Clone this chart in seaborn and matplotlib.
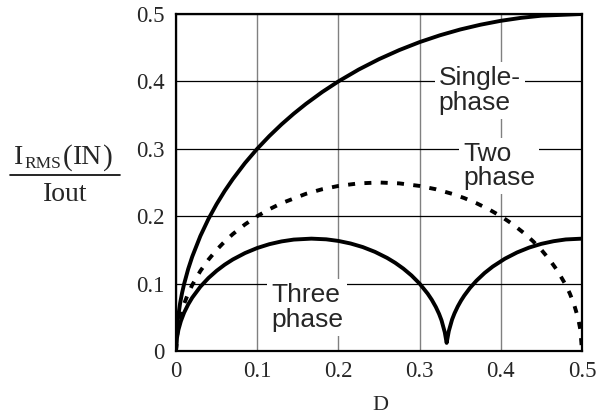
import matplotlib
matplotlib.use('agg')
import matplotlib.pyplot as plt
from matplotlib.lines import Line2D
import seaborn as sns

# data
d_single = [0, 0.001, 0.002, 0.005, 0.0075, 0.01, 0.015, 0.02, 0.03, 0.04, 0.05, 0.06,
            0.07, 0.085, 0.1, 0.115, 0.13, 0.145, 0.16, 0.18, 0.2, 0.225, 0.25, 0.275,
            0.3, 0.325, 0.35, 0.375, 0.4, 0.425, 0.45, 0.5]
i_single = [0, 0.0316, 0.0447, 0.0705, 0.0863, 0.0995, 0.1216, 0.14, 0.1706, 0.196,
            0.2179, 0.2375, 0.2551, 0.2789, 0.3, 0.319, 0.3363, 0.3521, 0.3666, 0.3842,
            0.4, 0.4176, 0.433, 0.4465, 0.4583, 0.4684, 0.477, 0.4841, 0.4899, 0.4943,
            0.4975, 0.5]

d_two = [0, 0.002, 0.005, 0.01, 0.015, 0.02, 0.03, 0.04, 0.05, 0.06, 0.07, 0.085, 0.1,
         0.115, 0.13, 0.16, 0.18, 0.2, 0.225, 0.25, 0.275, 0.3, 0.32, 0.34, 0.355, 0.37,
         0.385, 0.4, 0.415, 0.43, 0.44, 0.45, 0.46, 0.47, 0.48, 0.485, 0.49, 0.495,
         0.498, 0.5]
i_two = [0, 0.0316, 0.0497, 0.07, 0.0853, 0.098, 0.1187, 0.1356, 0.15, 0.1625, 0.1735,
         0.1878, 0.2, 0.2104, 0.2193, 0.2332, 0.24, 0.2449, 0.2487, 0.25, 0.2487, 0.2449,
         0.24, 0.2332, 0.2269, 0.2193, 0.2104, 0.2, 0.1878, 0.1735, 0.1625, 0.15,
         0.1356, 0.1187, 0.098, 0.0853, 0.07, 0.0497, 0.0316, 0]

d_three = [0, 0.001, 0.003, 0.006, 0.01, 0.015, 0.02, 0.03, 0.04, 0.05, 0.06, 0.07,
           0.085, 0.1, 0.115, 0.13, 0.145, 0.1667, 0.185, 0.2, 0.215, 0.23, 0.245, 0.26,
           0.27, 0.28, 0.29, 0.3, 0.31, 0.315, 0.32, 0.324, 0.327, 0.331, 0.3333, 0.336,
           0.34, 0.343, 0.347, 0.351, 0.355, 0.362, 0.37, 0.38, 0.39, 0.405, 0.42, 0.435,
           0.45, 0.465, 0.48, 0.5]
i_three = [0, 0.0182, 0.0315, 0.0443, 0.0569, 0.0691, 0.0792, 0.0954, 0.1083, 0.119,
           0.1281, 0.1358, 0.1453, 0.1528, 0.1585, 0.1626, 0.1653, 0.1667, 0.1657,
           0.1633, 0.1595, 0.1542, 0.1471, 0.1381, 0.1308, 0.1222, 0.1121, 0.1, 0.085,
           0.076, 0.0653, 0.055, 0.0455, 0.0278, 0.012, 0.0297, 0.0467, 0.0559, 0.0661,
           0.0747, 0.0822, 0.0935, 0.1043, 0.1157, 0.1252, 0.1369, 0.1462, 0.1535,
           0.159, 0.1629, 0.1655, 0.1667]

ticks = [0, 0.1, 0.2, 0.3, 0.4, 0.5]
tick_labels = ["0", "0.1", "0.2", "0.3", "0.4", "0.5"]

sns.set_style("white")
plt.rcParams['font.family'] = ['Liberation Serif', 'DejaVu Serif']

fig = plt.figure(figsize=(6.09, 4.17), dpi=100)
ax = fig.add_axes([176 / 609, 1 - 351 / 417, 406 / 609, 337 / 417])

sns.lineplot(x=d_single, y=i_single, ax=ax, color="black", lw=2.8, sort=False,
             estimator=None, zorder=3)
sns.lineplot(x=d_two, y=i_two, ax=ax, color="black", lw=2.8, sort=False,
             estimator=None, linestyle=(0, (1.8, 2.4)), zorder=3)
sns.lineplot(x=d_three, y=i_three, ax=ax, color="black", lw=2.8, sort=False,
             estimator=None, zorder=3)

ax.set_xlim(0, 0.5)
ax.set_ylim(0, 0.5)
ax.set_xticks(ticks)
ax.set_yticks(ticks)
ax.set_xticklabels(tick_labels, fontsize=16.5)
ax.set_yticklabels(tick_labels, fontsize=16.5)
ax.tick_params(direction="in", length=4, width=1, color="black")
ax.tick_params(axis="x", pad=7)
ax.tick_params(axis="y", pad=8)
ax.set_axisbelow(True)
ax.yaxis.grid(True, color="black", lw=0.9)
ax.xaxis.grid(True, color="#808080", lw=1.0)
for s in ax.spines.values():
    s.set_color("black")
    s.set_linewidth(1.6)
    s.set_zorder(4)

box = dict(facecolor="white", edgecolor="none", boxstyle="square,pad=0.15")
lab = dict(fontsize=19, family=["Liberation Sans", "DejaVu Sans"], ha="left",
           va="center", linespacing=1.05, zorder=5, bbox=box)
ax.text(0.3235, 0.386, "Single-\nphase", **lab)
ax.text(0.354, 0.2745, "Two\nphase", **lab)
ax.text(0.117, 0.064, "Three\nphase", **lab)

# y label drawn as a stacked fraction
def px(x, y):
    return x / 609, 1 - y / 417

fig.text(*px(14, 164), "I", fontsize=20, va="baseline", ha="left")
fig.text(*px(24, 168), "RMS", fontsize=12.5, va="baseline", ha="left")
fig.text(*px(63, 165), "(", fontsize=21, va="baseline", ha="left")
fig.text(*px(73, 164), "IN", fontsize=20, va="baseline", ha="left")
fig.text(*px(103, 165), ")", fontsize=21, va="baseline", ha="left")
fig.add_artist(Line2D([10 / 609, 120 / 609], [1 - 175 / 417, 1 - 175 / 417],
                      color="black", lw=1.2))
fig.text(*px(65, 201), "Iout", fontsize=20, va="baseline", ha="center")
fig.text(*px(380, 405), "D", fontsize=16, ha="center", va="center")

fig.savefig("out.png", dpi=100)
